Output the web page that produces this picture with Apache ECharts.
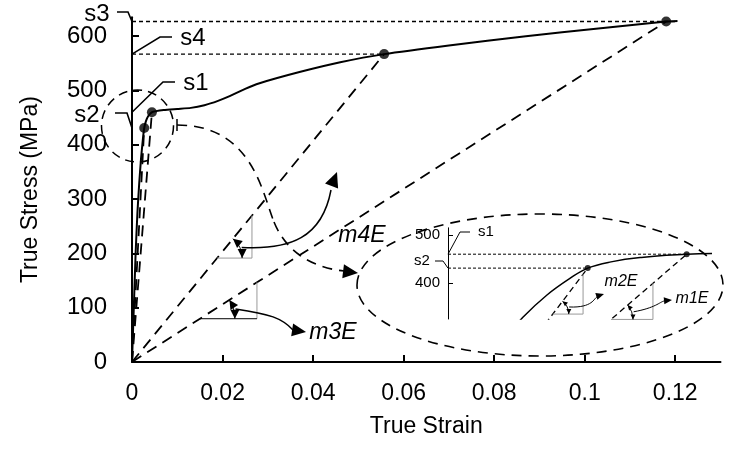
<!DOCTYPE html>
<html><head><meta charset="utf-8">
<script src="https://cdn.jsdelivr.net/npm/echarts@6/dist/echarts.min.js"></script>
<style>html,body{margin:0;padding:0;background:#fff}#c{width:748px;height:449px}</style>
</head><body><div id="c"></div>
<script>
// ---- data ----
const curveStrain = [0, 0.0004, 0.0008, 0.0012, 0.0016, 0.002, 0.0024, 0.0027, 0.0031, 0.0036, 0.0044, 0.007, 0.01, 0.013, 0.016, 0.019, 0.0217, 0.025, 0.028, 0.037, 0.046, 0.0557, 0.07, 0.087, 0.103, 0.118, 0.1205];
const curveStress = [0, 100, 200, 275, 330, 375, 410, 431, 444, 453, 460, 464, 466, 468, 473, 481, 490, 503, 513, 534, 552, 567, 583, 600, 614, 627, 628];
const pointNames = ['s1', 's2', 's4', 's3'];
const pointStrain = [0.0044, 0.0027, 0.0557, 0.118];
const pointStress = [460, 431, 567, 627];
const xTicks = [0, 0.02, 0.04, 0.06, 0.08, 0.1, 0.12];
const yTicks = [0, 100, 200, 300, 400, 500, 600];
const insetTicks = [400, 500];

const FONT = '"Liberation Sans", Arial, sans-serif';
const chart = echarts.init(document.getElementById('c'));
const pt = i => [pointStrain[i], pointStress[i]];
const secant = (i, xi, yi) => ({type: 'line', xAxisIndex: xi, yAxisIndex: yi, data: [[0, 0], pt(i)], showSymbol: false, clip: true, silent: true,
  lineStyle: {color: '#000', width: xi ? 1.3 : 1.8, type: xi ? [6, 4] : [11, 7]}});
const hline = (i, xi, yi, x0, ext) => ({type: 'line', xAxisIndex: xi, yAxisIndex: yi, data: [[x0, pointStress[i]], [pointStrain[i] + ext, pointStress[i]]], showSymbol: false, clip: true, silent: true,
  lineStyle: {color: '#000', width: xi ? 1 : 1.4, type: xi ? [3, 2] : [4, 3]}});

const insetXmin = 0.0003;
chart.setOption({
  animation: false,
  grid: [
    {left: 132, right: 27.5, top: 17.2, bottom: 87, outerBoundsMode: 'none'},
    {left: 448, right: 38, top: 227.8, bottom: 130, outerBoundsMode: 'none'}
  ],
  xAxis: [
    {min: 0, max: 0.13, interval: 0.02, name: 'True Strain', nameLocation: 'middle', nameGap: 53,
     nameTextStyle: {fontFamily: FONT, fontSize: 23, color: '#000'},
     axisLine: {lineStyle: {color: '#000', width: 2}},
     axisTick: {inside: true, length: 7, lineStyle: {color: '#000', width: 2}, customValues: xTicks},
     axisLabel: {fontFamily: FONT, fontSize: 23, color: '#000', margin: 20, customValues: xTicks, formatter: v => String(+v.toFixed(2))},
     splitLine: {show: false}},
    {gridIndex: 1, min: insetXmin, max: 0.0048, show: false}
  ],
  yAxis: [
    {min: 0, max: 635, interval: 100, name: 'True Stress (MPa)', nameLocation: 'middle', nameGap: 90,
     nameTextStyle: {fontFamily: FONT, fontSize: 23, color: '#000'},
     axisLine: {show: true, lineStyle: {color: '#000', width: 2}},
     axisTick: {show: true, inside: true, length: 7, lineStyle: {color: '#000', width: 2}, customValues: yTicks},
     axisLabel: {fontFamily: FONT, fontSize: 24, color: '#000', margin: 25, customValues: yTicks},
     splitLine: {show: false}},
    {gridIndex: 1, min: 325, max: 515, interval: 100,
     axisLine: {show: true, lineStyle: {color: '#000', width: 1}},
     axisTick: {show: true, inside: true, length: 5, lineStyle: {color: '#000', width: 1}, customValues: insetTicks},
     axisLabel: {fontFamily: FONT, fontSize: 15, color: '#000', margin: 8, customValues: insetTicks},
     splitLine: {show: false}}
  ],
  series: [
    hline(3, 0, 0, 0, 0.0025), hline(2, 0, 0, 0, 0),
    secant(0, 0, 0), secant(1, 0, 0), secant(2, 0, 0), secant(3, 0, 0),
    {type: 'line', data: curveStrain.map((x, i) => [x, curveStress[i]]), showSymbol: false, smooth: 0.2, silent: true,
     lineStyle: {color: '#000', width: 2}},
    {type: 'scatter', data: pointStrain.map((x, i) => [x, pointStress[i]]), symbolSize: 10, itemStyle: {color: '#000'}, silent: true, z: 5},
    hline(0, 1, 1, insetXmin, 0), hline(1, 1, 1, insetXmin, 0),
    secant(0, 1, 1), secant(1, 1, 1),
    {type: 'line', xAxisIndex: 1, yAxisIndex: 1, data: curveStrain.map((x, i) => [x, curveStress[i]]), showSymbol: false, smooth: 0.4, clip: true, silent: true,
     lineStyle: {color: '#000', width: 1.5}},
    {type: 'scatter', xAxisIndex: 1, yAxisIndex: 1, data: [pt(0), pt(1)], symbolSize: 6, itemStyle: {color: '#000'}, silent: true, z: 5}
  ]
});

// ---- annotations ----
const P = (x, y) => chart.convertToPixel({gridIndex: 0}, [x, y]);
const Q = (x, y) => chart.convertToPixel({gridIndex: 1}, [x, y]);
const els = [];
const stroke = (w, dash) => ({stroke: '#000', lineWidth: w, fill: null, lineDash: dash || null});
function head(tip, ang, len, wid) {
  const bx = tip[0] - len * Math.cos(ang), by = tip[1] - len * Math.sin(ang);
  const nx = -Math.sin(ang) * wid / 2, ny = Math.cos(ang) * wid / 2;
  els.push({type: 'polygon', shape: {points: [tip, [bx + nx, by + ny], [bx - nx, by - ny]]}, style: {fill: '#000'}, z: 20});
}
function text(x, y, s, size, italic) {
  els.push({type: 'text', x, y, style: {text: s, font: (italic ? 'italic ' : '') + size + 'px ' + FONT, fill: '#000', align: 'center', verticalAlign: 'middle'}, z: 20});
}
function poly(points, w, col) {
  els.push({type: 'polyline', shape: {points}, style: {stroke: col || '#000', lineWidth: w, fill: null}, z: 15});
}
function bez(p0, c1, c2, p1, w, dash) {
  els.push({type: 'bezierCurve', shape: {x1: p0[0], y1: p0[1], cpx1: c1[0], cpy1: c1[1], cpx2: c2[0], cpy2: c2[1], x2: p1[0], y2: p1[1]}, style: stroke(w, dash), z: 15});
}
// s labels on main axis
const ax = P(0, 0)[0];
const yS = i => P(0, pointStress[i])[1];
poly([[117, 12], [128, 12], [ax, yS(3)]], 1.6); text(97, 14, 's3', 24);
poly([[172, 37], [160, 37], [ax, yS(2)]], 1.6); text(193, 38, 's4', 24);
poly([[175, 82], [163, 82], [ax, yS(0)]], 1.6); text(196, 83, 's1', 24);
poly([[115, 113], [127, 113], [ax, yS(1)]], 1.6); text(87, 115, 's2', 24);

// circle around yield region
els.push({type: 'circle', shape: {cx: 137.5, cy: 126, r: 36}, style: stroke(1.5, [9, 6]), z: 15});
// big dashed connector
poly([[177, 119], [177, 131]], 1.5);
bez([177, 125], [252, 125], [262, 192], [274, 222], 1.6, [10, 7]);
bez([274, 222], [287, 254], [315, 268], [344, 271], 1.6, [10, 7]);
head([358, 273], 0.12, 15, 14);
// ellipse
els.push({type: 'ellipse', shape: {cx: 540, cy: 285, rx: 183, ry: 71}, style: stroke(1.6, [10, 7]), z: 15});

function tri(i, a, b, grid, gray, bottomCol) {
  const F = grid ? Q : P;
  const k = pointStress[i] / pointStrain[i];
  const A = F(a, k * a), B = F(b, k * b), C = F(b, k * a);
  poly([B, C], 1, gray); poly([A, C], 1, bottomCol || gray);
  return {A, B, C};
}
function angleMark(T, r, hl, hw) {
  const ang2 = Math.atan2(T.B[1] - T.A[1], T.B[0] - T.A[0]);
  const cx = T.A[0], cy = T.A[1];
  const p1 = [cx + r, cy];
  const p2 = [cx + r * Math.cos(ang2), cy + r * Math.sin(ang2)];
  els.push({type: 'arc', shape: {cx, cy, r, startAngle: ang2, endAngle: 0}, style: stroke(1), z: 16});
  head(p1, Math.PI / 2, hl, hw);
  head(p2, ang2 - Math.PI / 2, hl, hw);
  return [cx + r * Math.cos(ang2 / 2), cy + r * Math.sin(ang2 / 2)];
}
const t4 = tri(2, 0.0188, 0.0265, 0, '#999');
const m4 = angleMark(t4, 25, 9, 9);
bez([m4[0] + 2, m4[1]], [290, 250], [322, 238], [331, 190], 1.5);
head([337, 172], -1.2, 15, 14);
text(362, 236, 'm4E', 23, true);

const t3 = tri(3, 0.015, 0.0276, 0, '#999', '#000');
const m3 = angleMark(t3, 35, 9, 9);
bez([m3[0] + 2, m3[1]], [270, 314], [282, 318], [293, 330], 1.5);
head([306, 332], 0.15, 14, 13);
text(333, 333, 'm3E', 23, true);

const ti2 = tri(1, 0.0021, 0.00262, 1, '#999');
const mi2 = angleMark(ti2, 16, 5, 5);
bez([mi2[0] + 2, mi2[1]], [593, 308], [594, 298], [597, 297], 1);
head([604, 294], -0.3, 8, 7);
text(621, 282, 'm2E', 16, true);
const ti1 = tri(0, 0.0031, 0.00382, 1, '#999');
const mi1 = angleMark(ti1, 22, 5, 5);
bez([mi1[0] + 2, mi1[1]], [655, 308], [660, 302], [664, 301], 1);
head([672, 300], -0.1, 8, 7);
text(692, 299, 'm1E', 16, true);

const iax = Q(insetXmin, 400)[0];
const iy = i => Q(insetXmin, pointStress[i])[1];
poly([[470, 232], [460, 232], [iax, iy(0)]], 1); text(486, 232, 's1', 15);
poly([[435, 261], [443, 261], [iax, iy(1)]], 1); text(422, 261, 's2', 15);

chart.setOption({graphic: {elements: els}});
</script>
</body></html>
